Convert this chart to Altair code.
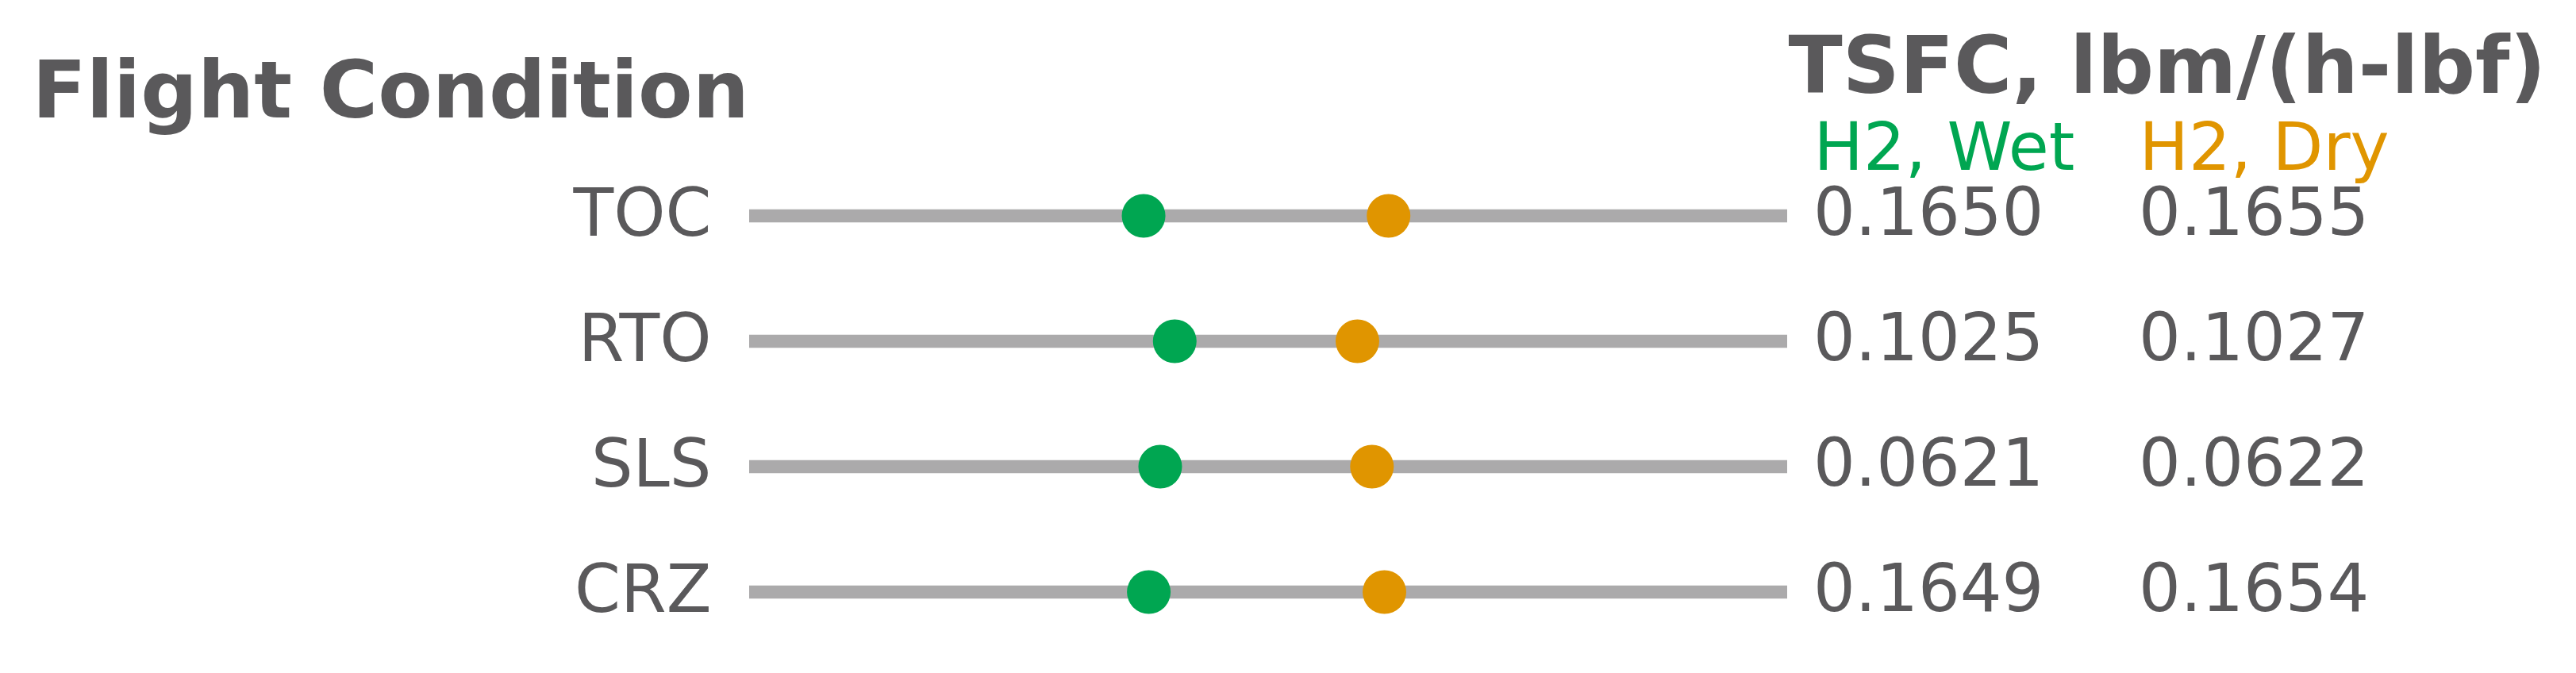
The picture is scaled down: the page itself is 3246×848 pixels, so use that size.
import altair as alt
import pandas as pd

# ---- data ----
conditions = ["TOC", "RTO", "SLS", "CRZ"]
series = ["H2, Wet", "H2, Dry"]
wet_tsfc = [0.1650, 0.1025, 0.0621, 0.1649]
dry_tsfc = [0.1655, 0.1027, 0.0622, 0.1654]
# relative position of each dot along its track (0 = left end, 1 = right end)
wet_pos = [0.380, 0.410, 0.396, 0.385]
dry_pos = [0.616, 0.586, 0.600, 0.612]
track_start = [0, 0, 0, 0]
track_end = [1, 1, 1, 1]
colors = ["#00A651", "#E09500"]

TEXT = "#5A595B"
TRACK = "#ABAAAB"
FONT = "DejaVu Sans"

tracks = pd.DataFrame({"cond": conditions, "lo": track_start, "hi": track_end})
rows = []
for c, wt, dt, wp, dp in zip(conditions, wet_tsfc, dry_tsfc, wet_pos, dry_pos):
    rows.append({"cond": c, "series": series[0], "tsfc": wt, "pos": wp})
    rows.append({"cond": c, "series": series[1], "tsfc": dt, "pos": dp})
long = pd.DataFrame(rows)

yscale = alt.Scale(type="point", domain=conditions, range=[40, 514], padding=0)
yaxis = alt.Axis(
    title="Flight Condition", titleAngle=0, titleAlign="left", titleBaseline="alphabetic",
    titleX=-904, titleY=-85, titleFontSize=100, titleFontWeight="bold", titleColor=TEXT,
    titleFont=FONT,
    labelFont=FONT, labelFontSize=83, labelColor=TEXT, labelAlign="right",
    labelBaseline="alphabetic", labelOffset=24, labelPadding=48, labelLimit=0,
    ticks=False, tickSize=0, domain=False, grid=False,
)
Y = alt.Y("cond:N", scale=yscale, axis=yaxis)

xq = alt.Scale(domain=[0, 1], range=[0, 1308])

rule = alt.Chart(tracks).mark_rule(color=TRACK, strokeWidth=16.7, strokeCap="butt").encode(
    x=alt.X("lo:Q", scale=xq, axis=None),
    x2="hi:Q",
    y=Y,
)

dots = alt.Chart(long).mark_circle(size=3025, opacity=1).encode(
    x=alt.X("pos:Q", scale=xq, axis=None),
    y=Y,
    color=alt.Color("series:N", scale=alt.Scale(domain=series, range=colors), legend=None),
)

xaxis_text = alt.Axis(
    orient="top", title="TSFC, lbm/(h-lbf)", titleAlign="left", titleBaseline="alphabetic",
    titleX=1309, titleY=-116, titleFontSize=100, titleFontWeight="bold", titleColor=TEXT,
    titleFont=FONT, titleAngle=0, titleLimit=0,
    labelFont=FONT, labelFontSize=83, labelAlign="left", labelBaseline="alphabetic",
    labelPadding=19, labelAngle=0, labelLimit=0, labelOverlap=False,
    labelColor={"condition": {"test": "datum.value === 'H2, Wet'", "value": colors[0]}, "value": colors[1]},
    ticks=False, tickSize=0, domain=False, grid=False,
)

values = alt.Chart(long).mark_text(
    align="left", baseline="alphabetic", dy=24, fontSize=83, font=FONT, color=TEXT
).encode(
    x=alt.X("series:N", scale=alt.Scale(type="point", domain=series, range=[1341, 1751], padding=0),
            axis=xaxis_text),
    y=Y,
    text=alt.Text("tsfc:Q", format=".4f"),
)

chart = (
    alt.layer(rule, dots, values)
    .resolve_scale(x="independent")
    .properties(
        width=1308, height=608,
        autosize=alt.AutoSizeParams(type="none"),
        padding={"left": 936, "top": 224, "right": 986, "bottom": 0},
    )
    .configure_view(stroke=None)
)

chart.save("out.html", embed_options={"renderer": "svg", "actions": False})
